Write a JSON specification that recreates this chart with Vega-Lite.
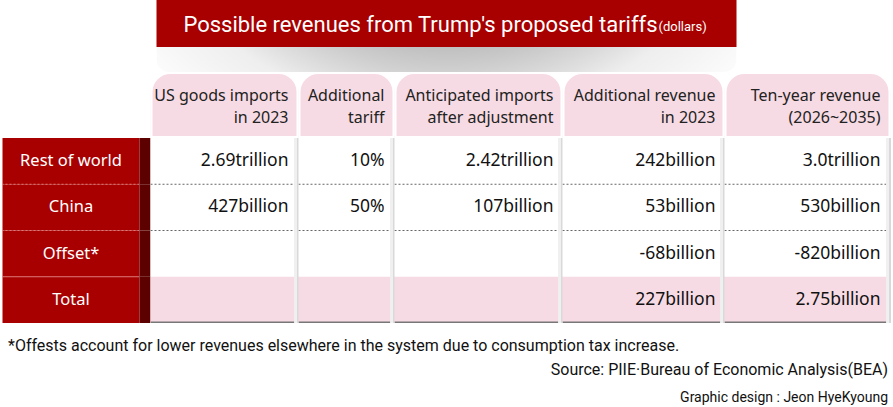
{
  "$schema": "https://vega.github.io/schema/vega-lite/v6.json",
  "padding": 0,
  "background": "white",
  "spacing": 0,
  "center": true,
  "config": {"view": {"stroke": null}, "concat": {"spacing": 0}, "font": "Noto Sans"},
  "datasets": {
    "title": [{"main": "Possible revenues from Trump's proposed tariffs", "unit": "(dollars)"}],
    "header": [
      {"col": "c1", "line1": "US goods imports", "line2": "in 2023"},
      {"col": "c2", "line1": "Additional", "line2": "tariff"},
      {"col": "c3", "line1": "Anticipated imports", "line2": "after adjustment"},
      {"col": "c4", "line1": "Additional revenue", "line2": "in 2023"},
      {"col": "c5", "line1": "Ten-year revenue", "line2": "(2026~2035)"}
    ],
    "rows": [{"row": "Rest of world"}, {"row": "China"}, {"row": "Offset*"}, {"row": "Total"}],
    "body": [
      {"col": "c1", "row": "Rest of world", "text": "2.69trillion"},
      {"col": "c1", "row": "China", "text": "427billion"},
      {"col": "c1", "row": "Offset*", "text": ""},
      {"col": "c1", "row": "Total", "text": ""},
      {"col": "c2", "row": "Rest of world", "text": "10%"},
      {"col": "c2", "row": "China", "text": "50%"},
      {"col": "c2", "row": "Offset*", "text": ""},
      {"col": "c2", "row": "Total", "text": ""},
      {"col": "c3", "row": "Rest of world", "text": "2.42trillion"},
      {"col": "c3", "row": "China", "text": "107billion"},
      {"col": "c3", "row": "Offset*", "text": ""},
      {"col": "c3", "row": "Total", "text": ""},
      {"col": "c4", "row": "Rest of world", "text": "242billion"},
      {"col": "c4", "row": "China", "text": "53billion"},
      {"col": "c4", "row": "Offset*", "text": "-68billion"},
      {"col": "c4", "row": "Total", "text": "227billion"},
      {"col": "c5", "row": "Rest of world", "text": "3.0trillion"},
      {"col": "c5", "row": "China", "text": "530billion"},
      {"col": "c5", "row": "Offset*", "text": "-820billion"},
      {"col": "c5", "row": "Total", "text": "2.75billion"}
    ],
    "notes": [
      {"line": 1, "text": "*Offests account for lower revenues elsewhere in the system due to consumption tax increase."},
      {"line": 2, "text": "Source: PIIE·Bureau of Economic Analysis(BEA)"},
      {"line": 3, "text": "Graphic design : Jeon HyeKyoung"}
    ]
  },
  "vconcat": [
    {
      "width": 580, "height": 47,
      "data": {"name": "title"},
      "layer": [
        {"mark": {"type": "rect", "fill": "#a80000"}},
        {"mark": {"type": "text", "color": "white", "font": "Roboto", "fontSize": 22, "baseline": "middle", "dx": -26, "dy": 1}, "encoding": {"text": {"field": "main"}}},
        {"mark": {"type": "text", "color": "white", "font": "Roboto", "fontSize": 13, "align": "left", "baseline": "middle", "dx": 212, "dy": 3}, "encoding": {"text": {"field": "unit"}}}
      ]
    },
    {
      "width": 580, "height": 25,
      "data": {"name": "title"},
      "mark": {"type": "rect", "clip": true, "cornerRadiusBottomLeft": 14, "cornerRadiusBottomRight": 14,
        "fill": {"gradient": "radial", "x1": 0.5, "y1": 0, "r1": 0, "x2": 0.5, "y2": 0, "r2": 0.75,
          "stops": [{"offset": 0, "color": "#3c3c3c"}, {"offset": 0.45, "color": "#8a8a8a"}, {"offset": 0.8, "color": "#eeeeee"}, {"offset": 1, "color": "#ffffff"}]}},
      "encoding": {
        "x": {"datum": 0, "type": "quantitative", "scale": {"domain": [0, 1]}, "axis": null},
        "x2": {"datum": 1},
        "y": {"datum": 0, "type": "quantitative", "scale": {"domain": [0, 1]}, "axis": null},
        "y2": {"datum": 1}
      }
    },
    {
      "bounds": "flush",
      "hconcat": [
        {"width": 148, "height": 66, "data": {"name": "title"}, "mark": {"type": "rect", "clip": true, "opacity": 0}},
        {"width": 148, "height": 66, "data": {"name": "header"}, "transform": [{"filter": "datum.col==='c1'"}],
          "encoding": {"x": {"datum": 1, "type": "quantitative", "scale": {"domain": [0, 1]}, "axis": null}},
          "layer": [
            {"mark": {"type": "rect", "clip": true, "fill": "#f7dbe4", "stroke": "white", "strokeWidth": 4, "cornerRadiusTopLeft": 20, "cornerRadiusTopRight": 20}, "encoding": {"x": {"datum": 0, "type": "quantitative"}, "x2": {"datum": 1}}},
            {"mark": {"type": "text", "align": "right", "baseline": "middle", "dx": -10, "dy": -9, "fontSize": 16, "color": "#222"}, "encoding": {"text": {"field": "line1"}}},
            {"mark": {"type": "text", "align": "right", "baseline": "middle", "dx": -10, "dy": 13, "fontSize": 16, "color": "#222"}, "encoding": {"text": {"field": "line2"}}}
          ]},
        {"width": 96, "height": 66, "data": {"name": "header"}, "transform": [{"filter": "datum.col==='c2'"}],
          "encoding": {"x": {"datum": 1, "type": "quantitative", "scale": {"domain": [0, 1]}, "axis": null}},
          "layer": [
            {"mark": {"type": "rect", "clip": true, "fill": "#f7dbe4", "stroke": "white", "strokeWidth": 4, "cornerRadiusTopLeft": 20, "cornerRadiusTopRight": 20}, "encoding": {"x": {"datum": 0, "type": "quantitative"}, "x2": {"datum": 1}}},
            {"mark": {"type": "text", "align": "right", "baseline": "middle", "dx": -10, "dy": -9, "fontSize": 16, "color": "#222"}, "encoding": {"text": {"field": "line1"}}},
            {"mark": {"type": "text", "align": "right", "baseline": "middle", "dx": -10, "dy": 13, "fontSize": 16, "color": "#222"}, "encoding": {"text": {"field": "line2"}}}
          ]},
        {"width": 168, "height": 66, "data": {"name": "header"}, "transform": [{"filter": "datum.col==='c3'"}],
          "encoding": {"x": {"datum": 1, "type": "quantitative", "scale": {"domain": [0, 1]}, "axis": null}},
          "layer": [
            {"mark": {"type": "rect", "clip": true, "fill": "#f7dbe4", "stroke": "white", "strokeWidth": 4, "cornerRadiusTopLeft": 20, "cornerRadiusTopRight": 20}, "encoding": {"x": {"datum": 0, "type": "quantitative"}, "x2": {"datum": 1}}},
            {"mark": {"type": "text", "align": "right", "baseline": "middle", "dx": -9, "dy": -9, "fontSize": 16, "color": "#222"}, "encoding": {"text": {"field": "line1"}}},
            {"mark": {"type": "text", "align": "right", "baseline": "middle", "dx": -9, "dy": 13, "fontSize": 16, "color": "#222"}, "encoding": {"text": {"field": "line2"}}}
          ]},
        {"width": 162, "height": 66, "data": {"name": "header"}, "transform": [{"filter": "datum.col==='c4'"}],
          "encoding": {"x": {"datum": 1, "type": "quantitative", "scale": {"domain": [0, 1]}, "axis": null}},
          "layer": [
            {"mark": {"type": "rect", "clip": true, "fill": "#f7dbe4", "stroke": "white", "strokeWidth": 4, "cornerRadiusTopLeft": 20, "cornerRadiusTopRight": 20}, "encoding": {"x": {"datum": 0, "type": "quantitative"}, "x2": {"datum": 1}}},
            {"mark": {"type": "text", "align": "right", "baseline": "middle", "dx": -9, "dy": -9, "fontSize": 16, "color": "#222"}, "encoding": {"text": {"field": "line1"}}},
            {"mark": {"type": "text", "align": "right", "baseline": "middle", "dx": -9, "dy": 13, "fontSize": 16, "color": "#222"}, "encoding": {"text": {"field": "line2"}}}
          ]},
        {"width": 166, "height": 66, "data": {"name": "header"}, "transform": [{"filter": "datum.col==='c5'"}],
          "encoding": {"x": {"datum": 1, "type": "quantitative", "scale": {"domain": [0, 1]}, "axis": null}},
          "layer": [
            {"mark": {"type": "rect", "clip": true, "fill": "#f7dbe4", "stroke": "white", "strokeWidth": 4, "cornerRadiusTopLeft": 20, "cornerRadiusTopRight": 20}, "encoding": {"x": {"datum": 0, "type": "quantitative"}, "x2": {"datum": 1}}},
            {"mark": {"type": "text", "align": "right", "baseline": "middle", "dx": -10, "dy": -9, "fontSize": 16, "color": "#222"}, "encoding": {"text": {"field": "line1"}}},
            {"mark": {"type": "text", "align": "right", "baseline": "middle", "dx": -10, "dy": 13, "fontSize": 16, "color": "#222"}, "encoding": {"text": {"field": "line2"}}}
          ]}
      ]
    },
    {
      "bounds": "flush",
      "hconcat": [
        {"width": 137, "height": 185, "data": {"name": "rows"},
          "encoding": {"y": {"field": "row", "type": "nominal", "sort": null, "scale": {"domain": ["Rest of world", "China", "Offset*", "Total"], "paddingInner": 0, "paddingOuter": 0}, "axis": null}},
          "layer": [
            {"mark": {"type": "rect", "fill": "#a80000"}},
            {"mark": {"type": "text", "color": "white", "fontSize": 16.5, "baseline": "middle"}, "encoding": {"text": {"field": "row"}}},
            {"transform": [{"filter": "datum.row!=='Rest of world'"}], "mark": {"type": "rule", "clip": true, "color": "#e07a7a", "strokeWidth": 1},
              "encoding": {"y": {"field": "row", "type": "nominal", "bandPosition": 0}, "strokeDash": {"condition": {"test": "datum.row==='Total'", "value": [1, 0]}, "value": [2, 2]}}}
          ]},
        {"width": 11, "height": 185, "data": {"name": "rows"},
          "mark": {"type": "rect", "fill": "#5c0000"},
          "encoding": {"y": {"field": "row", "type": "nominal", "sort": null, "scale": {"domain": ["Rest of world", "China", "Offset*", "Total"], "paddingInner": 0, "paddingOuter": 0}, "axis": null}}},
        {"width": 148, "height": 185, "data": {"name": "body"}, "transform": [{"filter": "datum.col==='c1'"}],
          "encoding": {"x": {"datum": 1, "type": "quantitative", "scale": {"domain": [0, 1]}, "axis": null}},
          "layer": [
            {"mark": {"type": "rect"}, "encoding": {"x": {"datum": 0, "type": "quantitative"}, "x2": {"datum": 1}, "y": {"field": "row", "type": "nominal", "sort": null, "scale": {"domain": ["Rest of world", "China", "Offset*", "Total"], "paddingInner": 0, "paddingOuter": 0}, "axis": null}, "fill": {"condition": {"test": "datum.row==='Total'", "value": "#f7dbe4"}, "value": "#ffffff"}}},
            {"transform": [{"filter": "datum.row==='China'||datum.row==='Offset*'"}], "mark": {"type": "rule", "clip": true, "color": "#666", "strokeDash": [2, 2]}, "encoding": {"x": {"datum": 0, "type": "quantitative"}, "x2": {"datum": 1}, "y": {"field": "row", "type": "nominal", "bandPosition": 0}}},
            {"transform": [{"filter": "datum.row==='Total'"}], "mark": {"type": "rule", "clip": true, "color": "#777", "strokeWidth": 3}, "encoding": {"x": {"datum": 0, "type": "quantitative"}, "x2": {"datum": 1}, "y": {"field": "row", "type": "nominal", "bandPosition": 1}}},
            {"mark": {"type": "rule", "clip": true, "color": "#f0f0f0", "strokeWidth": 8}},
            {"mark": {"type": "rule", "clip": true, "color": "#d8d8d8", "strokeWidth": 2}},
            {"mark": {"type": "text", "align": "right", "baseline": "middle", "dx": -10, "fontSize": 17.5, "color": "#111"}, "encoding": {"y": {"field": "row", "type": "nominal"}, "text": {"field": "text"}}}
          ]},
        {"width": 96, "height": 185, "data": {"name": "body"}, "transform": [{"filter": "datum.col==='c2'"}],
          "encoding": {"x": {"datum": 1, "type": "quantitative", "scale": {"domain": [0, 1]}, "axis": null}},
          "layer": [
            {"mark": {"type": "rect"}, "encoding": {"x": {"datum": 0, "type": "quantitative"}, "x2": {"datum": 1}, "y": {"field": "row", "type": "nominal", "sort": null, "scale": {"domain": ["Rest of world", "China", "Offset*", "Total"], "paddingInner": 0, "paddingOuter": 0}, "axis": null}, "fill": {"condition": {"test": "datum.row==='Total'", "value": "#f7dbe4"}, "value": "#ffffff"}}},
            {"transform": [{"filter": "datum.row==='China'||datum.row==='Offset*'"}], "mark": {"type": "rule", "clip": true, "color": "#666", "strokeDash": [2, 2]}, "encoding": {"x": {"datum": 0, "type": "quantitative"}, "x2": {"datum": 1}, "y": {"field": "row", "type": "nominal", "bandPosition": 0}}},
            {"transform": [{"filter": "datum.row==='Total'"}], "mark": {"type": "rule", "clip": true, "color": "#777", "strokeWidth": 3}, "encoding": {"x": {"datum": 0, "type": "quantitative"}, "x2": {"datum": 1}, "y": {"field": "row", "type": "nominal", "bandPosition": 1}}},
            {"mark": {"type": "rule", "clip": true, "color": "#f0f0f0", "strokeWidth": 8}},
            {"mark": {"type": "rule", "clip": true, "color": "#d8d8d8", "strokeWidth": 2}},
            {"mark": {"type": "text", "align": "right", "baseline": "middle", "dx": -10, "fontSize": 17.5, "color": "#111"}, "encoding": {"y": {"field": "row", "type": "nominal"}, "text": {"field": "text"}}}
          ]},
        {"width": 168, "height": 185, "data": {"name": "body"}, "transform": [{"filter": "datum.col==='c3'"}],
          "encoding": {"x": {"datum": 1, "type": "quantitative", "scale": {"domain": [0, 1]}, "axis": null}},
          "layer": [
            {"mark": {"type": "rect"}, "encoding": {"x": {"datum": 0, "type": "quantitative"}, "x2": {"datum": 1}, "y": {"field": "row", "type": "nominal", "sort": null, "scale": {"domain": ["Rest of world", "China", "Offset*", "Total"], "paddingInner": 0, "paddingOuter": 0}, "axis": null}, "fill": {"condition": {"test": "datum.row==='Total'", "value": "#f7dbe4"}, "value": "#ffffff"}}},
            {"transform": [{"filter": "datum.row==='China'||datum.row==='Offset*'"}], "mark": {"type": "rule", "clip": true, "color": "#666", "strokeDash": [2, 2]}, "encoding": {"x": {"datum": 0, "type": "quantitative"}, "x2": {"datum": 1}, "y": {"field": "row", "type": "nominal", "bandPosition": 0}}},
            {"transform": [{"filter": "datum.row==='Total'"}], "mark": {"type": "rule", "clip": true, "color": "#777", "strokeWidth": 3}, "encoding": {"x": {"datum": 0, "type": "quantitative"}, "x2": {"datum": 1}, "y": {"field": "row", "type": "nominal", "bandPosition": 1}}},
            {"mark": {"type": "rule", "clip": true, "color": "#f0f0f0", "strokeWidth": 8}},
            {"mark": {"type": "rule", "clip": true, "color": "#d8d8d8", "strokeWidth": 2}},
            {"mark": {"type": "text", "align": "right", "baseline": "middle", "dx": -9, "fontSize": 17.5, "color": "#111"}, "encoding": {"y": {"field": "row", "type": "nominal"}, "text": {"field": "text"}}}
          ]},
        {"width": 162, "height": 185, "data": {"name": "body"}, "transform": [{"filter": "datum.col==='c4'"}],
          "encoding": {"x": {"datum": 1, "type": "quantitative", "scale": {"domain": [0, 1]}, "axis": null}},
          "layer": [
            {"mark": {"type": "rect"}, "encoding": {"x": {"datum": 0, "type": "quantitative"}, "x2": {"datum": 1}, "y": {"field": "row", "type": "nominal", "sort": null, "scale": {"domain": ["Rest of world", "China", "Offset*", "Total"], "paddingInner": 0, "paddingOuter": 0}, "axis": null}, "fill": {"condition": {"test": "datum.row==='Total'", "value": "#f7dbe4"}, "value": "#ffffff"}}},
            {"transform": [{"filter": "datum.row==='China'||datum.row==='Offset*'"}], "mark": {"type": "rule", "clip": true, "color": "#666", "strokeDash": [2, 2]}, "encoding": {"x": {"datum": 0, "type": "quantitative"}, "x2": {"datum": 1}, "y": {"field": "row", "type": "nominal", "bandPosition": 0}}},
            {"transform": [{"filter": "datum.row==='Total'"}], "mark": {"type": "rule", "clip": true, "color": "#777", "strokeWidth": 3}, "encoding": {"x": {"datum": 0, "type": "quantitative"}, "x2": {"datum": 1}, "y": {"field": "row", "type": "nominal", "bandPosition": 1}}},
            {"mark": {"type": "rule", "clip": true, "color": "#f0f0f0", "strokeWidth": 8}},
            {"mark": {"type": "rule", "clip": true, "color": "#d8d8d8", "strokeWidth": 2}},
            {"mark": {"type": "text", "align": "right", "baseline": "middle", "dx": -9, "fontSize": 17.5, "color": "#111"}, "encoding": {"y": {"field": "row", "type": "nominal"}, "text": {"field": "text"}}}
          ]},
        {"width": 166, "height": 185, "data": {"name": "body"}, "transform": [{"filter": "datum.col==='c5'"}],
          "encoding": {"x": {"datum": 1, "type": "quantitative", "scale": {"domain": [0, 1]}, "axis": null}},
          "layer": [
            {"mark": {"type": "rect"}, "encoding": {"x": {"datum": 0, "type": "quantitative"}, "x2": {"datum": 1}, "y": {"field": "row", "type": "nominal", "sort": null, "scale": {"domain": ["Rest of world", "China", "Offset*", "Total"], "paddingInner": 0, "paddingOuter": 0}, "axis": null}, "fill": {"condition": {"test": "datum.row==='Total'", "value": "#f7dbe4"}, "value": "#ffffff"}}},
            {"transform": [{"filter": "datum.row==='China'||datum.row==='Offset*'"}], "mark": {"type": "rule", "clip": true, "color": "#666", "strokeDash": [2, 2]}, "encoding": {"x": {"datum": 0, "type": "quantitative"}, "x2": {"datum": 1}, "y": {"field": "row", "type": "nominal", "bandPosition": 0}}},
            {"transform": [{"filter": "datum.row==='Total'"}], "mark": {"type": "rule", "clip": true, "color": "#777", "strokeWidth": 3}, "encoding": {"x": {"datum": 0, "type": "quantitative"}, "x2": {"datum": 1}, "y": {"field": "row", "type": "nominal", "bandPosition": 1}}},
            {"mark": {"type": "rule", "clip": true, "color": "#f0f0f0", "strokeWidth": 8}},
            {"mark": {"type": "rule", "clip": true, "color": "#d8d8d8", "strokeWidth": 2}},
            {"mark": {"type": "text", "align": "right", "baseline": "middle", "dx": -10, "fontSize": 17.5, "color": "#111"}, "encoding": {"y": {"field": "row", "type": "nominal"}, "text": {"field": "text"}}}
          ]}
      ]
    },
    {
      "width": 893, "height": 84,
      "data": {"name": "notes"},
      "encoding": {"y": {"field": "line", "type": "ordinal", "scale": {"domain": [1, 2, 3], "paddingInner": 0, "paddingOuter": 0}, "axis": null}},
      "layer": [
        {"transform": [{"filter": "datum.line===1"}], "mark": {"type": "text", "align": "left", "baseline": "middle", "dx": 8, "dy": 9, "fontSize": 16, "font": "Roboto", "color": "#111"},
          "encoding": {"x": {"datum": 0, "type": "quantitative", "scale": {"domain": [0, 1]}, "axis": null}, "text": {"field": "text"}}},
        {"transform": [{"filter": "datum.line>1"}], "mark": {"type": "text", "align": "right", "baseline": "middle", "dx": -5, "dy": 5, "font": "Roboto", "color": "#111"},
          "encoding": {"x": {"datum": 1, "type": "quantitative", "scale": {"domain": [0, 1]}, "axis": null}, "text": {"field": "text"}, "size": {"condition": {"test": "datum.line===3", "value": 14}, "value": 16}}}
      ]
    }
  ]
}
